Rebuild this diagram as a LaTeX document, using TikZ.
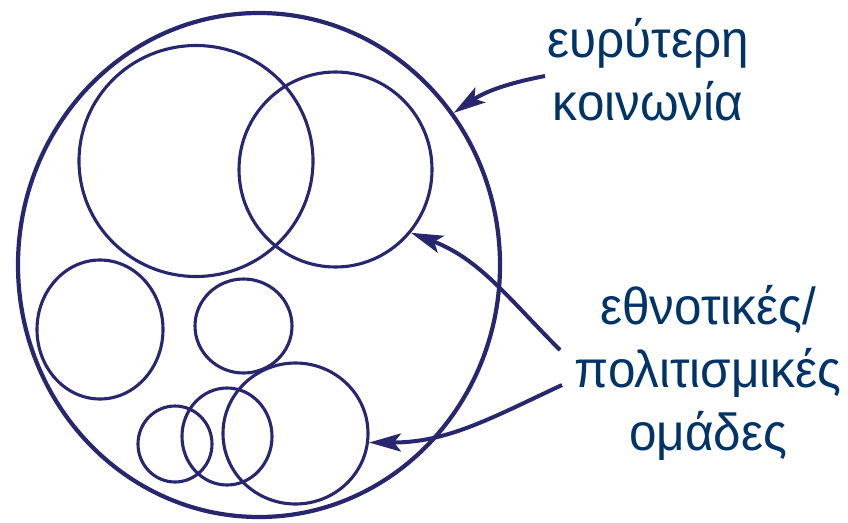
\documentclass[tikz,border=0pt]{standalone}
\usepackage{fontspec}
\newfontfamily\greekfont[FakeStretch=0.95]{Liberation Sans}
\usetikzlibrary{shapes.geometric,arrows.meta}
\definecolor{ink}{RGB}{40,38,110}
\definecolor{txtblue}{RGB}{0,52,104}
\tikzset{
  ring/.style={draw=ink, ellipse, inner sep=0pt, line width=3.1pt},
  lbl/.style={font=\greekfont\fontsize{52}{63}\selectfont, text=txtblue, align=center, inner sep=0pt},
  pointer/.style={draw=ink, line width=4pt, -{Stealth[length=32pt,width=18pt,inset=7pt]}}
}
\begin{document}
\begin{tikzpicture}[x=1pt,y=1pt]
        \useasboundingbox (0,0) rectangle (848,-522);
        \node[ring, line width=4.2pt, minimum width=482pt, minimum height=504pt] (soc) at (259,-265) {};
        \node[ring, minimum width=234pt, minimum height=231pt] (gA) at (196,-161) {};
        \node[ring, minimum width=193pt, minimum height=195pt] (gB) at (335.5,-169.5) {};
        \node[ring, minimum width=126pt, minimum height=139pt] (gC) at (100,-329.5) {};
        \node[ring, minimum width=97pt, minimum height=94pt] (gD) at (243.5,-326) {};
        \node[ring, minimum width=145pt, minimum height=141pt] (gE) at (295.5,-433.5) {};
        \node[ring, minimum width=90pt, minimum height=97pt] (gF) at (227,-436.5) {};
        \node[ring, minimum width=74pt, minimum height=76pt] (gG) at (175,-444) {};
        \node[lbl] (lsoc) at (648,-70) {ευρύτερη\\κοινωνία};
        \node[lbl] (lgrp) at (708,-373) {εθνοτικές/\\πολιτισμικές\\ομάδες};
        \coordinate (psoc) at (545,-76);
        \coordinate (pgrpA) at (560,-350);
        \coordinate (pgrpB) at (562,-385);
        \draw[pointer] (psoc) to[out=191,in=34] (soc.38.7);
        \draw[pointer] (pgrpA) to[out=135,in=-21] (gB.-40.6);
        \draw[pointer] (pgrpB) to[out=205,in=0] (gE.-7);
    \end{tikzpicture}
\end{document}
